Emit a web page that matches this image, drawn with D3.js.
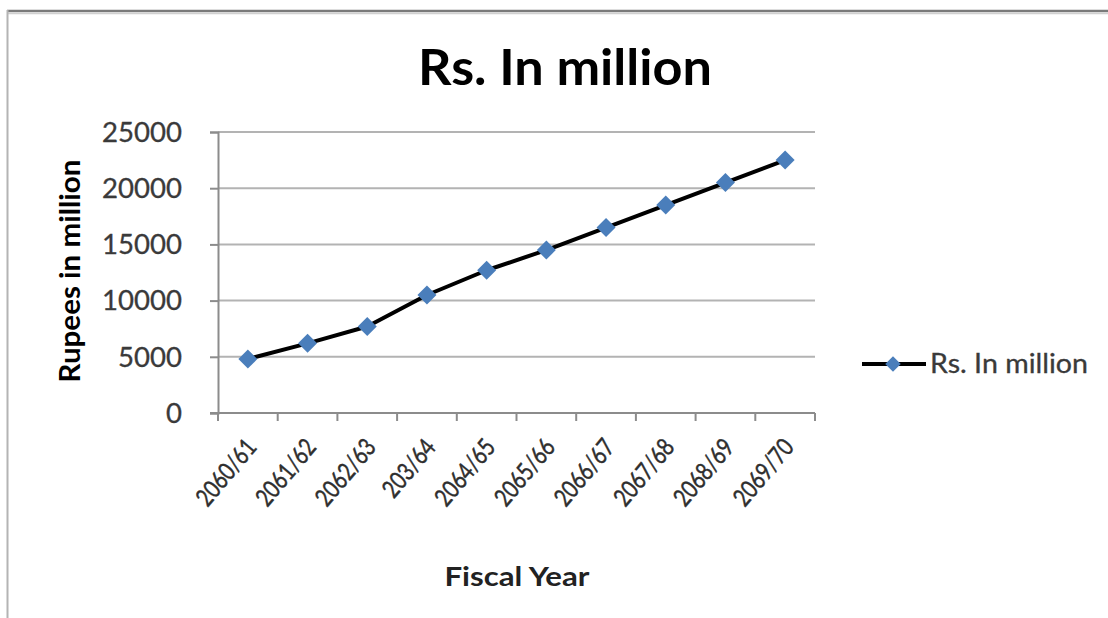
<!DOCTYPE html>
<html>
<head>
<meta charset="utf-8">
<script src="https://cdn.jsdelivr.net/npm/d3@7/dist/d3.min.js"></script>
<style>
  html, body { margin: 0; padding: 0; background: #fff; }
  svg { display: block; }
  text { font-family: Lato, "Noto Sans", sans-serif; }
</style>
</head>
<body>
<svg id="chart" width="1108" height="618"></svg>
<script>
// Revenue by fiscal year (Rs. in million)
const categories = ["2060/61", "2061/62", "2062/63", "203/64", "2064/65",
                    "2065/66", "2066/67", "2067/68", "2068/69", "2069/70"];
const values = [4800, 6200, 7700, 10500, 12700, 14500, 16500, 18500, 20500, 22500];
const yTicks = [0, 5000, 10000, 15000, 20000, 25000];
const seriesName = "Rs. In million";

const svg = d3.select("#chart");
const W = 1108, H = 618;
const plot = { left: 218, right: 815, top: 132, bottom: 413 };

// Chart frame
svg.append("rect").attr("width", W).attr("height", H).attr("fill", "#fff");
svg.append("line").attr("x1", 7).attr("x2", W).attr("y1", 11).attr("y2", 11)
  .attr("stroke", "#7a7a7a").attr("stroke-width", 2.5);
svg.append("line").attr("x1", 7).attr("x2", W).attr("y1", 13.5).attr("y2", 13.5)
  .attr("stroke", "#d0d0d0").attr("stroke-width", 1.5);
svg.append("line").attr("x1", 7.5).attr("x2", 7.5).attr("y1", 10).attr("y2", H)
  .attr("stroke", "#b4b4b4").attr("stroke-width", 2);

const x = d3.scaleBand().domain(categories).range([plot.left, plot.right]).paddingInner(0).paddingOuter(0);
const y = d3.scaleLinear().domain([0, 25000]).range([plot.bottom, plot.top]);

// Horizontal gridlines
svg.append("g").selectAll("line").data(yTicks.filter(d => d > 0)).join("line")
  .attr("x1", plot.left).attr("x2", plot.right)
  .attr("y1", d => y(d)).attr("y2", d => y(d))
  .attr("stroke", "#b3b3b3").attr("stroke-width", 2);

// Y axis
const fmt = d3.format("d");
const yAxis = svg.append("g").attr("transform", `translate(${plot.left},0)`)
  .call(d3.axisLeft(y).tickValues(yTicks).tickSize(8).tickPadding(28).tickFormat(fmt));
yAxis.select(".domain").attr("stroke", "#8c8c8c").attr("stroke-width", 2);
yAxis.selectAll(".tick line").attr("stroke", "#8c8c8c").attr("stroke-width", 2);
yAxis.selectAll(".tick text").attr("fill", "#3a3a3a")
  .attr("stroke", "#3a3a3a").attr("stroke-width", 0.3)
  .style("font-size", "26px").attr("dy", "0.36em")
  .attr("textLength", d => fmt(d).length * 16).attr("lengthAdjust", "spacingAndGlyphs");

// X axis: labels at band centres, tick marks at band edges
const xAxis = svg.append("g").attr("transform", `translate(0,${plot.bottom})`)
  .call(d3.axisBottom(x).tickSize(0).tickPadding(0));
xAxis.select(".domain").remove();
xAxis.append("line").attr("x1", plot.left - 8).attr("x2", plot.right)
  .attr("stroke", "#8c8c8c").attr("stroke-width", 2);
const edges = categories.map(c => x(c)).concat([x.range()[1]]);
xAxis.selectAll(".edge").data(edges).join("line").attr("class", "edge")
  .attr("x1", d => d).attr("x2", d => d).attr("y1", 0).attr("y2", 8)
  .attr("stroke", "#8c8c8c").attr("stroke-width", 2);
xAxis.selectAll(".tick text")
  .attr("fill", "#2e2e2e").attr("stroke", "#2e2e2e").attr("stroke-width", 0.45)
  .style("font-size", "25px")
  .attr("text-anchor", "end").attr("dy", null).attr("y", 0)
  .attr("textLength", d => d.length * 11.2).attr("lengthAdjust", "spacingAndGlyphs")
  .attr("transform", "translate(10,35) rotate(-50)");

// Series line
const cx = d => x(d.cat) + x.bandwidth() / 2;
const pts = categories.map((c, i) => ({ cat: c, v: values[i] }));
svg.append("path").datum(pts)
  .attr("fill", "none").attr("stroke", "#000").attr("stroke-width", 4)
  .attr("stroke-linejoin", "round")
  .attr("d", d3.line().x(cx).y(d => y(d.v)));

// Diamond markers
const diamond = d3.symbol(d3.symbolSquare, 180);
svg.append("g").selectAll("path").data(pts).join("path")
  .attr("d", diamond)
  .attr("transform", d => `translate(${cx(d)},${y(d.v)}) rotate(45)`)
  .attr("fill", "#4a7ebb");

// Titles
svg.append("text").attr("x", 565).attr("y", 85).attr("text-anchor", "middle")
  .style("font-size", "50px").style("font-weight", "700").attr("fill", "#000")
  .attr("textLength", 294).attr("lengthAdjust", "spacingAndGlyphs")
  .text("Rs. In million");
svg.append("text").attr("transform", "translate(80,271) rotate(-90)")
  .attr("text-anchor", "middle").style("font-size", "28px").style("font-weight", "700")
  .attr("textLength", 223).attr("lengthAdjust", "spacingAndGlyphs")
  .attr("fill", "#000").text("Rupees in million");
svg.append("text").attr("x", 517).attr("y", 586).attr("text-anchor", "middle")
  .style("font-size", "27px").style("font-weight", "700").attr("fill", "#222")
  .attr("textLength", 145).attr("lengthAdjust", "spacingAndGlyphs")
  .text("Fiscal Year");

// Legend
const lg = svg.append("g").attr("transform", "translate(862,364)");
lg.append("line").attr("x1", 0).attr("x2", 64).attr("stroke", "#000").attr("stroke-width", 4);
lg.append("path").attr("d", d3.symbol(d3.symbolSquare, 120)).attr("fill", "#4a7ebb")
  .attr("transform", "translate(31,0) rotate(45)");
lg.append("text").attr("x", 68).attr("y", 9).style("font-size", "26px")
  .attr("stroke", "#3a3a3a").attr("stroke-width", 0.3)
  .attr("textLength", 158).attr("lengthAdjust", "spacingAndGlyphs")
  .attr("fill", "#3a3a3a").text(seriesName);
</script>
</body>
</html>
